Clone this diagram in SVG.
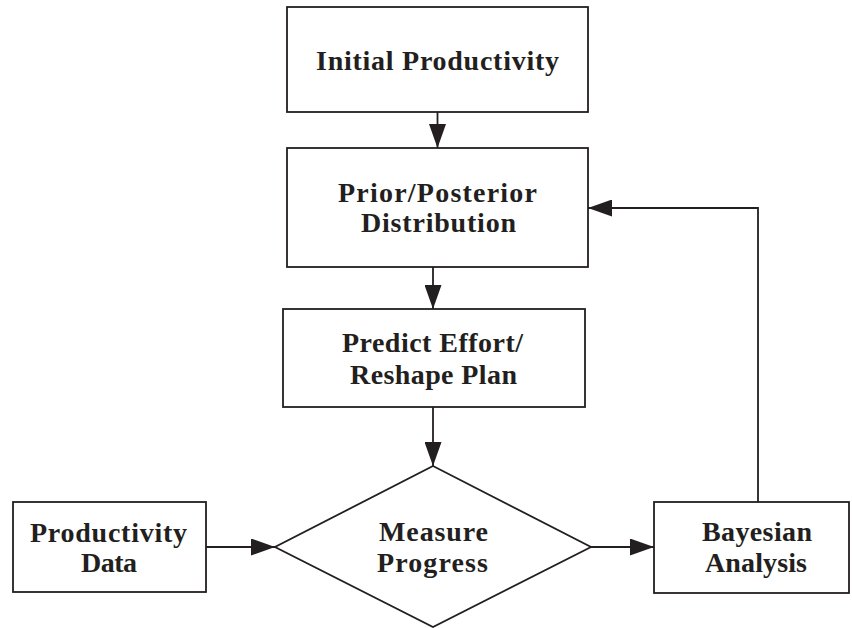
<svg xmlns="http://www.w3.org/2000/svg" width="852" height="628" viewBox="0 0 852 628">
  <defs>
    <marker id="arrow" viewBox="0 0 24 17" refX="24" refY="8.5" markerWidth="24" markerHeight="17" markerUnits="userSpaceOnUse" orient="auto">
      <path d="M0,0 L24,8.5 L0,17 Z" fill="#231f20"/>
    </marker>
    <style>
      .shape { fill: #ffffff; stroke: #231f20; stroke-width: 1.8; }
      .label { font-family: "Liberation Serif", "Times New Roman", serif; font-weight: bold; font-size: 28px; fill: #231f20; text-anchor: middle; }
      .link { fill: none; stroke: #231f20; stroke-width: 1.8; marker-end: url(#arrow); }
    </style>
  </defs>
  <rect width="852" height="628" fill="#ffffff"/>

  <g id="connectors">
    <path class="link" d="M437.5,112 V148"/>
    <path class="link" d="M433,267 V309"/>
    <path class="link" d="M433,407 V466"/>
    <path class="link" d="M206,547 H275"/>
    <path class="link" d="M591,547 H654"/>
    <path class="link" d="M758,502 V208 H588"/>
  </g>

  <g id="initial-productivity">
    <rect class="shape" x="287" y="7" width="301" height="105"/>
    <text class="label" x="437.5" y="70" textLength="243" lengthAdjust="spacing">Initial Productivity</text>
  </g>

  <g id="prior-posterior">
    <rect class="shape" x="287" y="148" width="301" height="119"/>
    <text class="label" x="437.5" y="202" textLength="199" lengthAdjust="spacing">Prior/Posterior</text>
    <text class="label" x="438.5" y="232" textLength="155" lengthAdjust="spacing">Distribution</text>
  </g>

  <g id="predict-effort">
    <rect class="shape" x="283" y="309" width="302" height="98"/>
    <text class="label" x="432.5" y="352" textLength="181" lengthAdjust="spacing">Predict Effort/</text>
    <text class="label" x="433.5" y="384" textLength="167" lengthAdjust="spacing">Reshape Plan</text>
  </g>

  <g id="measure-progress">
    <polygon class="shape" points="433,466 591,547 433,627 275,547"/>
    <text class="label" x="433.5" y="541" textLength="109" lengthAdjust="spacing">Measure</text>
    <text class="label" x="432.5" y="572" textLength="111" lengthAdjust="spacing">Progress</text>
  </g>

  <g id="productivity-data">
    <rect class="shape" x="13" y="502" width="193" height="90"/>
    <text class="label" x="108.5" y="542" textLength="157" lengthAdjust="spacing">Productivity</text>
    <text class="label" x="109" y="572" textLength="56" lengthAdjust="spacing">Data</text>
  </g>

  <g id="bayesian-analysis">
    <rect class="shape" x="654" y="502" width="195" height="91"/>
    <text class="label" x="757" y="541" textLength="110" lengthAdjust="spacing">Bayesian</text>
    <text class="label" x="756" y="572" textLength="102" lengthAdjust="spacing">Analysis</text>
  </g>
</svg>
